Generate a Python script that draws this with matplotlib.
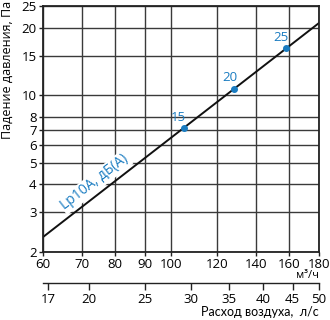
import matplotlib
matplotlib.use('Agg')
import matplotlib.pyplot as plt
from matplotlib.ticker import FixedLocator, NullLocator, FixedFormatter

plt.rcParams['font.family'] = ['Open Sans', 'DejaVu Sans']

# data
flow_line = [60, 180]          # m3/h
dp_line = [2.33, 21.0]         # Pa
flow_pts = [105, 128.5, 158]   # m3/h
dp_pts = [7.14, 10.69, 16.16]  # Pa
noise_lbl = ['15', '20', '25']

x_ticks = [60, 70, 80, 90, 100, 120, 140, 160, 180]
y_ticks = [2, 3, 4, 5, 6, 7, 8, 10, 15, 20, 25]
ls_ticks = [17, 20, 25, 30, 35, 40, 45, 50]

blue = '#1a7cc1'
dark = '#3a3a3a'

fig = plt.figure(figsize=(3.3, 3.2), dpi=100)
ax = fig.add_axes([0.130, 0.2125, 0.837, 0.769])

ax.set_xscale('log')
ax.set_yscale('log')
ax.set_xlim(60, 180)
ax.set_ylim(2, 25)

ax.xaxis.set_major_locator(FixedLocator(x_ticks))
ax.xaxis.set_major_formatter(FixedFormatter([str(v) for v in x_ticks]))
ax.xaxis.set_minor_locator(NullLocator())
ax.yaxis.set_major_locator(FixedLocator(y_ticks))
ax.yaxis.set_major_formatter(FixedFormatter([str(v) for v in y_ticks]))
ax.yaxis.set_minor_locator(NullLocator())

ax.grid(True, color=dark, linewidth=1.0)
ax.set_axisbelow(True)
for s in ax.spines.values():
    s.set_color('#222222')
    s.set_linewidth(1.3)
ax.tick_params(length=3, width=1, color='#222222', labelsize=9.5, pad=1.5)

ax.plot(flow_line, dp_line, color='#111111', linewidth=1.4)
ax.plot(flow_pts, dp_pts, 'o', color=blue, markersize=4)
for q, p, t in zip(flow_pts, dp_pts, noise_lbl):
    ax.annotate(t, (q, p), xytext=(-5, 11), textcoords='offset pixels',
                ha='center', va='center', color=blue, fontsize=9.5)

ax.text(65.5, 3.08, 'Lp10A, дБ(A)', rotation=38, rotation_mode='anchor',
        ha='left', va='baseline', color=blue, fontsize=10,
        bbox=dict(facecolor='white', edgecolor='none', pad=1))

# second scale in l/s
sec = ax.secondary_xaxis(-0.126, functions=(lambda x: x / 3.6, lambda x: x * 3.6))
sec.xaxis.set_major_locator(FixedLocator(ls_ticks))
sec.xaxis.set_major_formatter(FixedFormatter([str(v) for v in ls_ticks]))
sec.xaxis.set_minor_locator(NullLocator())
sec.spines['bottom'].set_color('#222222')
sec.spines['bottom'].set_linewidth(1.0)
sec.tick_params(length=5, width=1, color='#222222', labelsize=9.5, pad=2)

fig.text(0.967, 0.14, 'м³/ч', ha='right', va='center', fontsize=8)
fig.text(0.967, 0.011, 'Расход воздуха,  л/с', ha='right', va='baseline',
         fontsize=9, family=['Lato', 'DejaVu Sans'])
fig.text(0.022, 0.997, 'Падение давления, Па', rotation=90, ha='center', va='top', fontsize=9)

fig.savefig('out.png', dpi=100)
